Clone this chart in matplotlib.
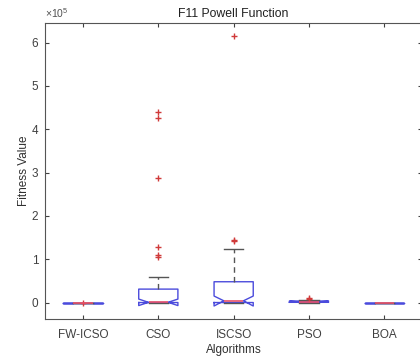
import numpy as np
import matplotlib
matplotlib.use("Agg")
import matplotlib.pyplot as plt

plt.rcParams['font.family'] = ['Liberation Sans', 'DejaVu Sans']
plt.rcParams['mathtext.fontset'] = 'custom'
plt.rcParams['mathtext.rm'] = 'Liberation Sans'

# values in units of 1e5
algorithms = ['FW-ICSO', 'CSO', 'ISCSO', 'PSO', 'BOA']
q1 = [0.0, 0.0, 0.0, 0.005, 0.0]
med = [0.0, 0.005, 0.04, 0.015, 0.0]
q3 = [0.0, 0.31, 0.48, 0.035, 0.0]
whislo = [0.0, 0.0, 0.0, 0.0, 0.0]
whishi = [0.0, 0.60, 1.23, 0.06, 0.0]
ci_lo = [0.0, -0.07, -0.08, 0.005, 0.0]
ci_hi = [0.0, 0.08, 0.15, 0.03, 0.0]
fliers = [[0.0],
          [4.40, 4.25, 2.88, 1.29, 1.09, 1.04],
          [6.16, 1.44, 1.42],
          [0.09, 0.10],
          []]

stats = []
for i, name in enumerate(algorithms):
    stats.append({'label': name, 'q1': q1[i], 'med': med[i], 'q3': q3[i],
                  'whislo': whislo[i], 'whishi': whishi[i],
                  'cilo': ci_lo[i], 'cihi': ci_hi[i],
                  'fliers': np.array(fliers[i])})

fig = plt.figure(figsize=(4.2, 3.58), dpi=100)
ax = fig.add_axes([45.3 / 420, 1 - 319 / 358, (422 - 45.3) / 420, (319 - 22.7) / 358])

ax.bxp(stats, shownotches=True, widths=0.52, patch_artist=False,
       boxprops=dict(color='#4b4bdc', linewidth=1.0),
       medianprops=dict(color='#e8506a', linewidth=1.2),
       whiskerprops=dict(color='#555555', linewidth=1.0, linestyle=(0, (4, 3))),
       capprops=dict(color='#555555', linewidth=1.0),
       flierprops=dict(marker='+', markeredgecolor='#d03a3a', markersize=5, linestyle='none'),
       capwidths=0.26)

ax.set_xlim(0.5, 5.5)
ax.set_ylim(-0.38, 6.46)
ax.set_yticks(range(0, 7))
ax.tick_params(direction='in', top=True, right=True, labelsize=8.5, colors='#404040', length=3)
ax.tick_params(axis='x', pad=7)
ax.tick_params(axis='y', pad=5)
for s in ax.spines.values():
    s.set_color('#555555')
    s.set_linewidth(0.8)
ax.set_title('F11 Powell Function', fontsize=8.8, color='#202020', pad=4)
ax.set_ylabel('Fitness Value', fontsize=8.5, color='#303030', labelpad=1)
ax.set_xlabel('Algorithms', fontsize=8.5, color='#303030', labelpad=2)
ax.text(0.0, 1.01, r'$\times10^5$', transform=ax.transAxes, fontsize=7.5, color='#505050', va='bottom', ha='left')

fig.savefig('out.png', dpi=100)
